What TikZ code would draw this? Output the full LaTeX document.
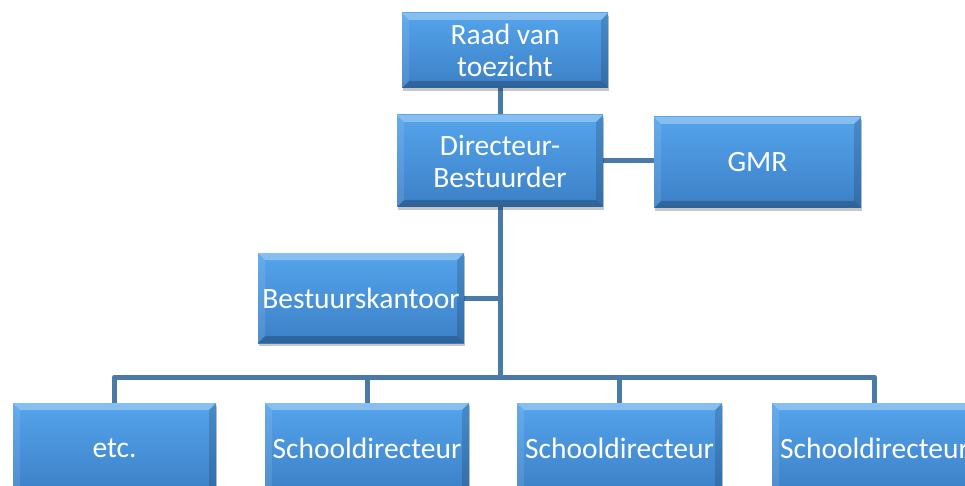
\documentclass[tikz,border=0pt]{standalone}
\usepackage{fontspec}
\setmainfont{Carlito}
\usetikzlibrary{shadows}
\pgfdeclarelayer{bg}
\pgfsetlayers{bg,main}
\definecolor{facetop}{RGB}{84,164,236}
\definecolor{facebot}{RGB}{60,128,198}
\definecolor{linec}{RGB}{74,122,168}
\tikzset{
  orgbox/.style={draw=none, text=white, align=center, inner sep=0pt, outer sep=0pt,
    font=\fontsize{29.5}{32}\selectfont,
    top color=facetop, bottom color=facebot,
    drop shadow={shadow xshift=1pt, shadow yshift=-3pt, opacity=0.22, fill=black},
    path picture={
      \coordinate (nw) at (path picture bounding box.north west);
      \coordinate (ne) at (path picture bounding box.north east);
      \coordinate (sw) at (path picture bounding box.south west);
      \coordinate (se) at (path picture bounding box.south east);
      \fill[white,opacity=0.30] (nw) -- (ne) -- ([shift={(-7pt,-7pt)}]ne) -- ([shift={(7pt,-7pt)}]nw) -- cycle;
      \fill[white,opacity=0.10] (nw) -- (sw) -- ([shift={(7pt,7pt)}]sw) -- ([shift={(7pt,-7pt)}]nw) -- cycle;
      \fill[black,opacity=0.15] (ne) -- (se) -- ([shift={(-7pt,7pt)}]se) -- ([shift={(-7pt,-7pt)}]ne) -- cycle;
      \fill[black,opacity=0.22] (sw) -- (se) -- ([shift={(-7pt,7pt)}]se) -- ([shift={(7pt,7pt)}]sw) -- cycle;
    }},
  conn/.style={draw=linec, line width=5pt}
}
\begin{document}
\begin{tikzpicture}[x=1pt,y=-1pt]
\useasboundingbox (0,0) rectangle (965,486);
\node[orgbox, minimum width=206pt, minimum height=75pt] (raad) at (505,50.5) {Raad van\\toezicht};
\node[orgbox, minimum width=206pt, minimum height=92pt] (dir) at (500,161) {Directeur-\\Bestuurder};
\node[orgbox, minimum width=207pt, minimum height=91pt] (gmr) at (757.5,162.5) {GMR};
\node[orgbox, minimum width=206pt, minimum height=90pt] (bk) at (361,298) {Bestuurskantoor};
\node[orgbox, minimum width=203pt, minimum height=90pt] (etc) at (114.5,448) {etc.};
\node[orgbox, minimum width=204pt, minimum height=90pt] (s1) at (367,448) {Schooldirecteur};
\node[orgbox, minimum width=205pt, minimum height=90pt] (s2) at (619.5,448) {Schooldirecteur};
\node[orgbox, minimum width=205pt, minimum height=90pt] (s3) at (874.5,448) {Schooldirecteur};
\coordinate (bus) at (500,377);
\begin{pgfonlayer}{bg}
\draw[conn] (dir.north) -- (dir.north |- raad.south);
\draw[conn] (dir.east) -- (dir.east -| gmr.west);
\draw[conn] (dir.south) -- (bus);
\draw[conn] (bk.east) -- (bk.east -| bus);
\draw[conn, line join=round] (etc.north) -- (etc.north |- bus) -- (s3.north |- bus) -- (s3.north);
\draw[conn] (s1.north) -- (s1.north |- bus);
\draw[conn] (s2.north) -- (s2.north |- bus);
\end{pgfonlayer}
\end{tikzpicture}
\end{document}
